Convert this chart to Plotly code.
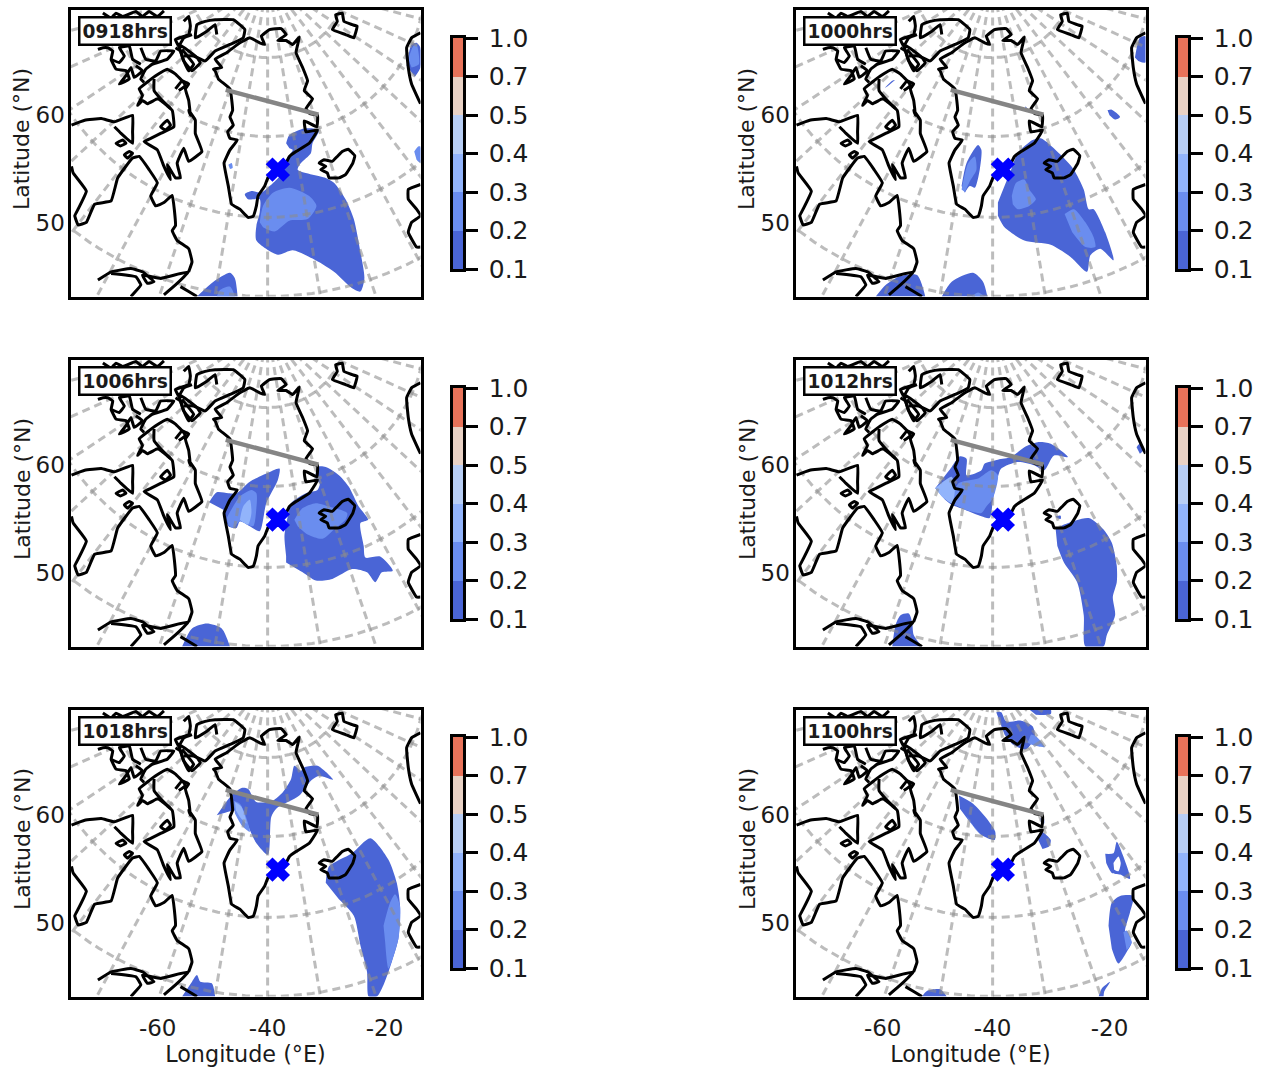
import math
import plotly.graph_objects as go

W, H = 1269, 1072
hours = ["0918hrs", "1000hrs", "1006hrs", "1012hrs", "1018hrs", "1100hrs"]
cbar_levels = ["0.1", "0.2", "0.3", "0.4", "0.5", "0.7", "1.0"]
cbar_colors = ["#4a65d6", "#6a8def", "#92b4fb", "#b8cef5", "#e9d2c5", "#e8735a"]
x_tick_vals = [291, 624, 978]
x_tick_text = ["-60", "-40", "-20"]
y_tick_vals = [345, 672]
y_tick_text = ["60", "50"]

# Map plane coordinates of the reference's polar projection
pole = (624, -70)
lat_radius = {80: 240, 70: 480, 60: 725, 50: 965}
meridians = list(range(-140, 70, 10))
cone = 0.94
site = (655, 510)
section = [(497, 268), (778, 343)]

greenland = [(460,205),(485,200),(465,175),(500,155),(540,125),(570,110),(600,125),(615,130),(605,105),(630,85),(665,82),(680,100),(655,118),(680,118),(700,130),(720,108),(710,155),(730,200),(745,240),(735,270),(760,295),(740,325),(752,340),(775,345),(773,380),(735,362),(740,395),(775,390),(750,430),(710,455),(690,470),(680,490),(655,510),(625,535),(615,560),(595,590),(590,620),(580,652),(565,655),(540,630),(515,615),(505,560),(492,490),(510,450),(532,420),(510,415),(503,395),(520,375),(510,350),(518,330),(510,265),(475,235),(465,210),(460,205)]
ellesmere = [(370,165),(400,165),(435,180),(465,150),(510,130),(550,110),(555,85),(520,55),(465,55),(435,60),(410,70),(405,110),(440,90),(465,70),(470,100)]
strait_a = [(355,130),(385,150),(410,170),(420,185),(395,210),(370,180),(355,130)]
baffin = [(230,315),(245,285),(235,265),(265,240),(285,225),(320,205),(345,220),(365,240),(385,250),(375,265),(385,300),(390,345),(385,330),(405,360),(405,400),(425,455),(385,485),(370,445),(350,490),(360,535),(345,535),(320,495),(330,540),(310,500),(290,450),(250,425),(270,415),(300,400),(340,380),(335,330),(300,300),(290,295),(260,310),(245,300),(230,315)]
baffin_inner = [(280,235),(280,270),(300,295),(330,325)]
baffin_notch = [(345,265),(365,240),(375,255),(355,270)]
isle_top = [(125,35),(150,50),(165,35),(185,45),(225,30),(245,45),(265,30),(290,45),(310,28)]
isle_a = [(110,145),(125,140),(140,140),(155,150),(150,175),(165,205),(195,210),(205,235),(175,250),(195,225),(210,200),(220,230),(245,210),(225,195)]
isle_b = [(150,175),(175,185),(190,165),(175,140),(205,135),(215,175),(240,190)]
isle_c = [(240,140),(255,175),(285,180),(300,150),(340,150),(320,175),(275,190),(255,205),(240,235),(250,245)]
isle_d = [(345,140),(360,150),(370,180),(385,210),(400,190),(385,170),(365,145)]
isle_e = [(370,60),(385,45),(390,75),(385,100),(345,115),(355,135),(370,110),(395,100)]
ring_a = [(300,380),(320,360),(330,375),(315,390),(300,380)]
ring_b = [(165,430),(185,420),(195,430),(178,438),(165,430)]
ring_c = [(190,465),(205,455),(215,460),(200,475),(190,465)]
canada_north = [(30,375),(70,360),(120,355),(160,365),(215,345),(215,395),(215,430),(180,400),(160,380)]
canada_east = [(30,500),(35,520),(75,575),(50,630),(40,650),(50,678),(75,670),(100,615),(150,605),(170,535),(215,475),(235,470),(265,510),(290,550),(270,590),(285,620),(310,610),(335,588),(345,680),(335,695),(350,725),(385,750),(395,790),(385,820)]
gulf_a = [(110,845),(150,820),(210,810),(245,820),(280,850),(260,855),(245,830),(300,840),(385,820),(345,860),(310,890)]
gulf_b = [(210,895),(240,860),(225,835),(150,825)]
gulf_c = [(360,865),(385,880),(410,895)]
svalbard = [(830,40),(850,35),(855,60),(880,70),(895,75),(885,110),(860,100),(820,85),(835,60),(830,40)]
iceland = [(780,490),(795,480),(820,485),(835,470),(850,455),(868,448),(888,468),(882,490),(860,525),(840,535),(810,535),(805,520),(785,510),(800,500),(780,490)]
norway = [(1087,95),(1060,110),(1045,140),(1050,200),(1060,250),(1087,310)]
britain = [(1087,555),(1050,570),(1050,600),(1075,630),(1087,650),(1060,670),(1050,700),(1075,745),(1087,745)]
coast_parts = [greenland, ellesmere, strait_a, baffin, baffin_inner, baffin_notch, isle_top, isle_a, isle_b, isle_c, isle_d, isle_e,
               ring_a, ring_b, ring_c, canada_north, canada_east, gulf_a, gulf_b, gulf_c, svalbard, iceland, norway, britain]

# Contour regions for each time, by colour band (0 = lowest band, -1 = gap)
f0918 = {0: [
    [(680,430),(690,405),(735,385),(780,390),(760,430),(755,460),(725,490),(715,510),(800,535),(825,550),(860,600),(885,660),(905,760),(917,840),(905,880),(880,870),(825,820),(760,780),(700,755),(655,768),(590,725),(590,680),(600,640),(600,600),(565,600),(555,585),(575,575),(605,580),(630,560),(660,530),(680,480),(700,450),(690,445)],
    [(410,895),(460,850),(510,823),(525,840),(533,895)],
    [(1045,195),(1060,130),(1075,125),(1087,140),(1087,200),(1070,228)],
    ], 1: [
    [(600,670),(610,620),(640,580),(690,565),(750,590),(772,620),(745,660),(690,665),(645,698),(610,685)],
    [(470,895),(480,875),(510,865),(525,895)],
    [(1050,175),(1065,135),(1075,130),(1082,190),(1060,200)],
    [(1068,455),(1080,440),(1087,440),(1087,490),(1075,480)],
    [(505,495),(515,490),(518,505),(510,508)],
    ]}
f1000 = {0: [
    [(640,610),(660,560),(680,510),(700,460),(745,420),(770,415),(830,465),(870,510),(900,570),(915,630),(930,630),(965,700),(990,785),(950,750),(920,770),(910,820),(860,775),(800,738),(720,725),(660,685),(640,650)],
    [(530,560),(545,490),(580,435),(590,450),(585,510),(570,565),(555,560),(540,580)],
    [(297,262),(320,240),(328,238),(305,258)],
    [(972,330),(985,328),(1010,350),(995,358),(978,345)],
    [(722,318),(730,325),(727,335)],
    [(1055,170),(1070,110),(1087,105),(1087,185),(1065,180)],
    [(270,895),(300,860),(340,835),(395,830),(420,895)],
    [(470,895),(500,850),(565,823),(595,850),(608,895)],
    ], 1: [
    [(682,590),(695,550),(720,540),(735,570),(755,600),(735,620),(700,630),(685,615)],
    [(842,645),(870,630),(905,670),(930,715),(935,745),(905,745),(865,700)],
    [(530,570),(550,490),(570,470),(575,510),(555,545),(540,578)],
    [(560,895),(580,883),(600,895)],
    ]}
f1006 = {0: [
    [(680,620),(675,560),(685,500),(695,460),(740,430),(775,420),(782,400),(770,390),(775,350),(800,350),(840,375),(870,410),(900,470),(928,510),(905,520),(915,590),(920,625),(965,622),(1003,665),(970,670),(950,700),(925,670),(880,660),(820,690),(770,695),(730,670),(680,640)],
    [(447,457),(470,427),(505,430),(530,430),(570,395),(620,370),(660,355),(655,390),(620,460),(600,545),(570,530),(540,515),(530,535),(505,530),(490,480)],
    [(365,895),(395,840),(440,825),(485,840),(510,895)],
    ], 1: [
    [(705,510),(730,475),(770,460),(810,470),(865,490),(860,510),(830,535),(790,568),(745,555),(715,530)],
    [(500,505),(540,440),(575,420),(590,430),(590,475),(580,530),(540,515),(520,535),(505,528)],
    ], 2: [
    [(540,510),(550,470),(570,450),(575,490),(565,525),(545,515)],
    ]}
f1012 = {0: [
    [(450,415),(500,350),(525,318),(545,325),(545,375),(590,360),(600,340),(640,328),(680,320),(720,290),(760,275),(800,280),(852,320),(810,315),(780,360),(750,345),(700,335),(650,355),(640,380),(625,450),(615,505),(590,500),(540,480),(500,465),(480,450)],
    [(815,540),(840,525),(915,505),(960,540),(985,580),(1000,650),(1000,700),(988,745),(995,800),(970,860),(960,895),(905,895),(900,800),(880,700),(840,640),(820,590)],
    [(320,895),(330,830),(345,800),(370,795),(380,820),(385,860),(410,895)],
    [(1060,290),(1070,280),(1080,300),(1070,310)],
    [(815,500),(830,498),(830,508),(818,505)],
    ], 1: [
    [(500,460),(520,400),(580,385),(620,360),(640,375),(625,445),(605,470),(590,490),(540,480)],
    ], 2: [
    [(450,415),(500,380),(510,420),(500,460),(470,440)],
    ]}
f1018 = {0: [
    [(470,345),(510,290),(545,262),(565,265),(590,305),(640,300),(670,275),(695,235),(705,195),(725,210),(735,200),(775,195),(822,237),(780,225),(755,240),(720,285),(650,325),(635,350),(625,465),(590,430),(570,390),(550,340),(520,330)],
    [(800,550),(810,500),(880,460),(935,415),(990,480),(1015,550),(1025,620),(1020,720),(1000,790),(975,860),(955,895),(930,895),(925,820),(905,740),(885,650),(840,600)],
    [(365,895),(395,850),(410,830),(420,850),(455,855),(465,895)],
    ], 1: [
    [(520,300),(540,310),(555,340),(570,395),(545,375),(525,340)],
    [(975,680),(995,610),(1010,585),(1025,620),(1020,720),(990,810),(980,730)],
    ], 2: [
    [(525,305),(545,320),(560,370),(540,350),(528,330)],
    ]}
f1100 = {0: [
    [(635,32),(650,32),(665,60),(710,58),(745,75),(752,105),(725,145),(685,130),(660,100)],
    [(735,24),(800,24),(800,38),(755,40)],
    [(522,285),(565,310),(610,360),(632,395),(630,420),(590,405),(555,365),(525,325)],
    [(768,355),(778,350),(780,370),(772,375)],
    [(762,420),(772,395),(800,420),(795,440),(775,447)],
    [(965,462),(990,460),(1000,425),(1020,470),(1040,538),(1010,525),(985,520),(968,490)],
    [(975,680),(985,610),(1010,590),(1050,590),(1040,640),(1025,700),(1045,730),(1030,760),(1005,795),(985,750)],
    [(410,895),(425,878),(465,873),(485,895)],
    [(945,895),(955,870),(980,850),(962,880),(960,895)],
    ], 1: [
    [(740,100),(755,105),(782,138),(745,132),(730,125)],
    [(545,345),(555,365),(590,405),(570,385)],
    [(1020,700),(1030,695),(1045,730),(1030,755)],
    ], -1: [
    [(990,490),(1005,470),(1012,490),(1005,515),(992,510)],
    ]}
panel_fills = [f0918, f1000, f1006, f1012, f1018, f1100]

panel_px = [(70.5, 420.5, 9.5, 296.5), (795.5, 1145.5, 9.5, 296.5),
            (70.5, 420.5, 359.5, 646.5), (795.5, 1145.5, 359.5, 646.5),
            (70.5, 420.5, 709.5, 996.5), (795.5, 1145.5, 709.5, 996.5)]
cbar_px = [(453, 463, 38, 269), (1178, 1188, 38, 269),
           (453, 463, 388, 619), (1178, 1188, 388, 619),
           (453, 463, 737, 968), (1178, 1188, 737, 968)]


def unzip(parts):
    xs, ys = [], []
    for part in parts:
        xs += [p[0] for p in part] + [None]
        ys += [p[1] for p in part] + [None]
    return xs, ys


def graticule():
    parts = []
    for r in lat_radius.values():
        parts.append([(pole[0] + r * math.sin(math.radians(a)), pole[1] + r * math.cos(math.radians(a)))
                      for a in range(-110, 111, 2)])
    for lon in meridians:
        a = math.radians(cone * (lon + 40))
        parts.append([(pole[0] + r * math.sin(a), pole[1] + r * math.cos(a)) for r in (0, 1300)])
    return unzip(parts)


fig = go.Figure()
layout = {"annotations": []}
grid_x, grid_y = graticule()
coast_x, coast_y = unzip(coast_parts)


def ref(n):
    return "" if n == 1 else str(n)


for i, (label, fills) in enumerate(zip(hours, panel_fills)):
    ax_id = ref(2 * i + 1)
    cb_id = ref(2 * i + 2)
    xa, ya = f"x{ax_id}", f"y{ax_id}"
    x0, x1, y0, y1 = panel_px[i]
    for band in sorted(fills, key=lambda b: (b < 0, b)):
        fx, fy = unzip(fills[band])
        color = "white" if band < 0 else cbar_colors[band]
        fig.add_trace(go.Scatter(x=fx, y=fy, mode="lines", fill="toself", fillcolor=color,
                                 line=dict(width=0, shape="spline", smoothing=0.7, color=color),
                                 hoverinfo="skip", xaxis=xa, yaxis=ya))
    fig.add_trace(go.Scatter(x=grid_x, y=grid_y, mode="lines", hoverinfo="skip", xaxis=xa, yaxis=ya,
                             line=dict(color="rgba(140,140,140,0.58)", width=3, dash="8px,5px")))
    fig.add_trace(go.Scatter(x=coast_x, y=coast_y, mode="lines", hoverinfo="skip", xaxis=xa, yaxis=ya,
                             line=dict(color="black", width=3, shape="spline", smoothing=0.3)))
    fig.add_trace(go.Scatter(x=[p[0] for p in section], y=[p[1] for p in section], mode="lines",
                             line=dict(color="#858585", width=4.5), xaxis=xa, yaxis=ya))
    fig.add_trace(go.Scatter(x=[site[0]], y=[site[1]], mode="markers", xaxis=xa, yaxis=ya,
                             marker=dict(symbol="x", size=19, color="#0000ff", line=dict(width=2, color="#0000ff"))))
    bottom = i >= 4
    layout[f"xaxis{ax_id}"] = dict(
        domain=[x0 / W, x1 / W], range=[27, 1087], anchor=ya, showgrid=False, zeroline=False,
        showline=True, mirror=True, linecolor="black", linewidth=3, automargin=False,
        tickmode="array", tickvals=x_tick_vals if bottom else [], ticktext=x_tick_text if bottom else [],
        ticks="", ticklabelstandoff=9,
        tickfont=dict(size=23, color="#1a1a1a"),
        title=dict(text="Longitude (°E)" if bottom else "", font=dict(size=22.3, color="#1a1a1a"), standoff=2))
    layout[f"yaxis{ax_id}"] = dict(
        domain=[1 - y1 / H, 1 - y0 / H], range=[895, 24], anchor=xa, showgrid=False, zeroline=False,
        showline=True, mirror=True, linecolor="black", linewidth=3, automargin=False,
        tickmode="array", tickvals=y_tick_vals, ticktext=y_tick_text,
        ticks="", ticklabelstandoff=-2,
        tickfont=dict(size=23, color="#1a1a1a"))
    layout["annotations"].extend([
        dict(text=label, xref=f"{xa} domain", yref=f"{ya} domain", x=0.022, y=0.925, xanchor="left",
             yanchor="middle", showarrow=False, bgcolor="white", bordercolor="black", borderwidth=2.5, borderpad=2,
             font=dict(size=18.6, color="#1a1a1a", family="DejaVu Sans", weight="bold")),
        dict(text="Latitude (°N)", xref="paper", yref="paper", x=(x0 - 48.5) / W, y=1 - (y0 + 129.5) / H,
             textangle=-90, showarrow=False, xanchor="center", yanchor="middle",
             font=dict(size=22, color="#1a1a1a")),
    ])

    # colour bar
    cx0, cx1, cy0, cy1 = cbar_px[i]
    n = len(cbar_colors)
    scale = []
    for k, c in enumerate(cbar_colors):
        scale += [[k / n, c], [(k + 1) / n, c]]
    fig.add_trace(go.Heatmap(x=[0, 1], y=list(range(n + 1)), z=[[k] for k in range(n)], zmin=-0.5, zmax=n - 0.5,
                             colorscale=scale, showscale=False, hoverinfo="skip",
                             xaxis=f"x{cb_id}", yaxis=f"y{cb_id}"))
    layout[f"xaxis{cb_id}"] = dict(domain=[cx0 / W, cx1 / W], range=[0, 1], anchor=f"y{cb_id}", showgrid=False,
                                   zeroline=False, showticklabels=False, ticks="", showline=True, mirror=True,
                                   linecolor="black", linewidth=2.5, automargin=False)
    layout[f"yaxis{cb_id}"] = dict(domain=[1 - cy1 / H, 1 - cy0 / H], range=[0, n], anchor=f"x{cb_id}", side="right",
                                   showgrid=False, zeroline=False, tickmode="array", tickvals=list(range(n + 1)),
                                   ticktext=cbar_levels, ticks="outside", ticklen=12, tickwidth=2.5, tickcolor="black",
                                   ticklabelstandoff=6, automargin=False,
                                   tickfont=dict(size=25, color="#1a1a1a"), showline=True, mirror=True,
                                   linecolor="black", linewidth=2.5)

fig.update_layout(width=W, height=H, margin=dict(l=0, r=0, t=0, b=0), autosize=False, showlegend=False,
                  paper_bgcolor="white", plot_bgcolor="white", font=dict(family="DejaVu Sans"), **layout)
fig.write_html("out.html", config={"displayModeBar": False}, post_script="document.body.style.margin='0';")
